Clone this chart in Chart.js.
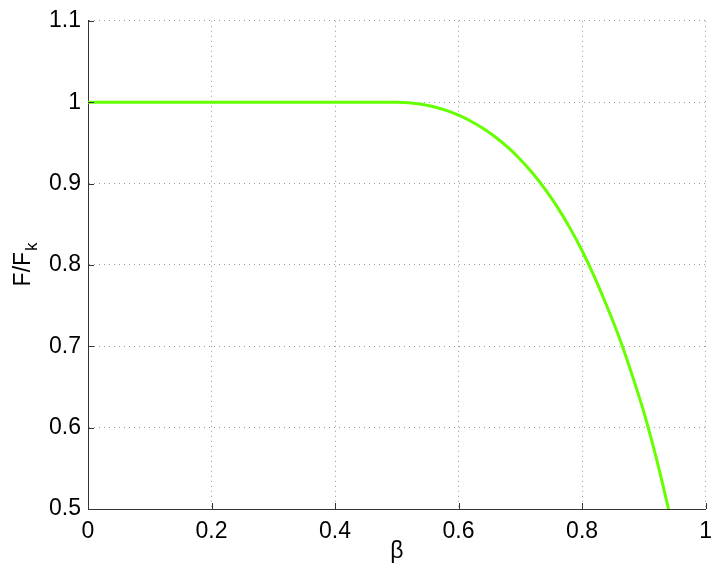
<!DOCTYPE html>
<html>
<head>
<meta charset="utf-8">
<script src="https://cdn.jsdelivr.net/npm/chart.js@4"></script>
<style>
  html, body { margin: 0; padding: 0; background: #fff; }
  #wrap { width: 721px; height: 570px; }
</style>
</head>
<body>
<div id="wrap"><canvas id="grafico"></canvas></div>
<script>
// valores
var beta = [0, 0.5, 0.52, 0.54, 0.56, 0.58, 0.6, 0.62, 0.64, 0.66, 0.68, 0.7, 0.72, 0.74, 0.76, 0.78, 0.8, 0.82, 0.84, 0.86, 0.88, 0.9, 0.92, 0.94];
var razon = [1, 1, 0.9994, 0.9975, 0.9944, 0.9899, 0.984, 0.9766, 0.9676, 0.9569, 0.9443, 0.9296, 0.9126, 0.8931, 0.871, 0.8458, 0.8174, 0.7854, 0.7495, 0.711, 0.667, 0.619, 0.563, 0.5];
var ticksX = [0, 0.2, 0.4, 0.6, 0.8, 1];
var ticksY = [0.5, 0.6, 0.7, 0.8, 0.9, 1, 1.1];

var fuente = 'Liberation Sans, Arial, Helvetica, sans-serif';

var puntos = beta.map(function (b, i) { return { x: b, y: razon[i] }; });

// marcas hacia dentro y titulos de ejes (estilo matlab)
var extras = {
    id: 'extras',
    afterDraw: function (chart) {
        var ctx = chart.ctx;
        var a = chart.chartArea;
        var sx = chart.scales.x, sy = chart.scales.y;
        ctx.save();
        ctx.strokeStyle = '#333';
        ctx.lineWidth = 1;
        ctx.beginPath();
        ticksX.forEach(function (t) {
            var px = Math.round(sx.getPixelForValue(t)) + 0.5;
            ctx.moveTo(px, a.bottom);
            ctx.lineTo(px, a.bottom - 6);
        });
        ticksY.forEach(function (t) {
            var py = Math.round(sy.getPixelForValue(t)) + 0.5;
            ctx.moveTo(a.left, py);
            ctx.lineTo(a.left + 6, py);
        });
        ctx.stroke();

        ctx.fillStyle = '#000';
        ctx.font = '23px ' + fuente;
        ctx.textAlign = 'center';
        ctx.textBaseline = 'alphabetic';
        ctx.fillText('\u03B2', (a.left + a.right) / 2, 558);

        // F/F_k girado
        ctx.translate(30, (a.top + a.bottom) / 2);
        ctx.rotate(-Math.PI / 2);
        var w1 = ctx.measureText('F/F').width;
        ctx.font = '17px ' + fuente;
        var w2 = ctx.measureText('k').width;
        var x0 = -(w1 + w2) / 2;
        ctx.textAlign = 'left';
        ctx.font = '23px ' + fuente;
        ctx.fillText('F/F', x0, 0);
        ctx.font = '17px ' + fuente;
        ctx.fillText('k', x0 + w1 + 1, 7);
        ctx.restore();
    }
};

new Chart(document.getElementById('grafico'), {
    type: 'scatter',
    data: {
        datasets: [{
            data: puntos,
            showLine: true,
            borderColor: '#66ff00',
            borderWidth: 3,
            pointRadius: 0,
            cubicInterpolationMode: 'monotone',
            fill: false
        }]
    },
    options: {
        responsive: true,
        maintainAspectRatio: false,
        animation: false,
        layout: { padding: { top: 16, right: 13, left: 0, bottom: 0 } },
        plugins: {
            legend: { display: false },
            tooltip: { enabled: false }
        },
        scales: {
            x: {
                type: 'linear',
                min: 0,
                max: 1,
                afterBuildTicks: function (s) { s.ticks = ticksX.map(function (v) { return { value: v }; }); },
                afterFit: function (s) { s.height = 61; },
                grid: { color: '#999', drawTicks: false, tickLength: 0 },
                border: { display: true, color: '#333', width: 1, dash: [1, 4] },
                ticks: {
                    color: '#000',
                    padding: 9,
                    font: { family: fuente, size: 23 },
                    maxRotation: 0,
                    callback: function (v) { return String(v); }
                }
            },
            y: {
                min: 0.5,
                max: 1.1,
                afterBuildTicks: function (s) { s.ticks = ticksY.map(function (v) { return { value: v }; }); },
                afterFit: function (s) { s.width = 88; },
                grid: { color: '#999', drawTicks: false, tickLength: 0 },
                border: { display: true, color: '#333', width: 1, dash: [1, 4] },
                ticks: {
                    color: '#000',
                    padding: 7,
                    font: { family: fuente, size: 23 },
                    callback: function (v) { return String(Math.round(v * 10) / 10); }
                }
            }
        }
    },
    plugins: [extras]
});
</script>
</body>
</html>
